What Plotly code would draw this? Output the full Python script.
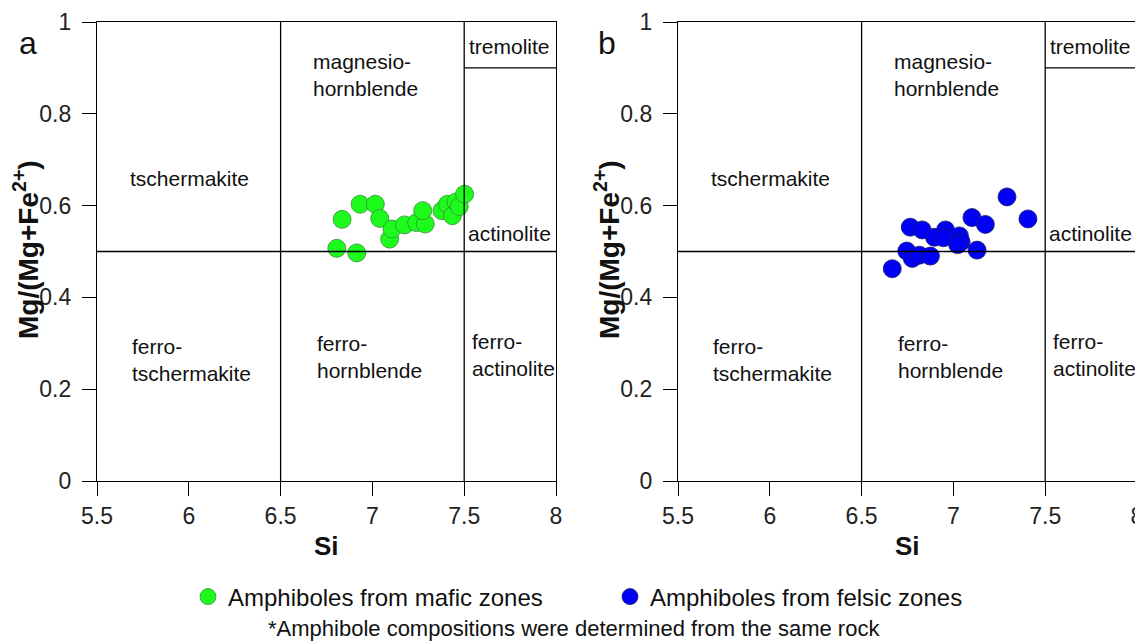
import plotly.graph_objects as go

# ---- data ----
mafic_si = [6.835, 6.806, 6.915, 6.933, 7.016, 7.040, 7.094, 7.107, 7.175, 7.241,
            7.288, 7.274, 7.379, 7.409, 7.436, 7.455, 7.473, 7.502]
mafic_mg = [0.570, 0.507, 0.497, 0.603, 0.603, 0.572, 0.527, 0.549, 0.558, 0.563,
            0.560, 0.589, 0.589, 0.603, 0.578, 0.608, 0.598, 0.625]

felsic_si = [6.667, 6.746, 6.765, 6.776, 6.815, 6.830, 6.875, 6.897, 6.957, 6.946,
             7.033, 7.042, 7.023, 7.101, 7.174, 7.129, 7.292, 7.406]
felsic_mg = [0.4625, 0.501, 0.553, 0.485, 0.492, 0.547, 0.490, 0.531, 0.547, 0.530,
             0.534, 0.521, 0.515, 0.574, 0.559, 0.503, 0.619, 0.571]

x_ticks = [5.5, 6, 6.5, 7, 7.5, 8]
x_tick_labels = ["5.5", "6", "6.5", "7", "7.5", "8"]
y_ticks = [0, 0.2, 0.4, 0.6, 0.8, 1]
y_tick_labels = ["0", "0.2", "0.4", "0.6", "0.8", "1"]

# field boundaries of the amphibole classification diagram
si_bounds = [6.5, 7.5]
mg_bound = 0.5
tremolite_mg = 0.9

field_names = ["tschermakite", "magnesio-<br>hornblende", "tremolite", "actinolite",
               "ferro-<br>tschermakite", "ferro-<br>hornblende", "ferro-<br>actinolite"]
field_x = [5.668, 6.663, 7.517, 7.51, 5.68, 6.685, 7.533]
field_y = [0.66, 0.885, 0.946, 0.54, 0.264, 0.27, 0.2745]

panel_letters = ["a", "b"]

# page has an 8px body margin: size the figure so it fits the 1143x641 window
OX, OY = 8, 8
W, H = 1143 - OX, 641 - OY


def px(x):
    return (x - OX) / W


def py(y):
    return 1 - (y - OY) / H


font_fam = "Liberation Sans, Arial, sans-serif"
line_style = dict(color="black", width=1.3)

fig = go.Figure()

fig.add_trace(go.Scatter(
    x=mafic_si, y=mafic_mg, mode="markers", name="Amphiboles from mafic zones",
    marker=dict(size=18, color="#1dfb1d", line=dict(color="#3a8a3a", width=0.8)),
    xaxis="x", yaxis="y", legend="legend"))
fig.add_trace(go.Scatter(
    x=felsic_si, y=felsic_mg, mode="markers", name="Amphiboles from felsic zones",
    marker=dict(size=18, color="#0000f5", line=dict(color="#1a1a6a", width=0.8)),
    xaxis="x2", yaxis="y2", legend="legend2"))

for xr, yr in [("x", "y"), ("x2", "y2")]:
    for s in si_bounds:
        fig.add_shape(type="line", xref=xr, yref=yr, x0=s, x1=s, y0=0, y1=1, line=line_style)
    fig.add_shape(type="line", xref=xr, yref=yr, x0=x_ticks[0], x1=x_ticks[-1],
                  y0=mg_bound, y1=mg_bound, line=line_style)
    fig.add_shape(type="line", xref=xr, yref=yr, x0=si_bounds[1], x1=x_ticks[-1],
                  y0=tremolite_mg, y1=tremolite_mg, line=line_style)
    for name, fx, fy in zip(field_names, field_x, field_y):
        fig.add_annotation(x=fx, y=fy, xref=xr, yref=yr, text=name, showarrow=False,
                           xanchor="left", yanchor="middle", align="left",
                           font=dict(size=21, color="#111", family=font_fam))

# panel letters
for letter, lx in zip(panel_letters, [28, 607]):
    fig.add_annotation(x=px(lx), y=py(43), xref="paper", yref="paper", text=letter,
                       showarrow=False, font=dict(size=32, color="#111", family=font_fam),
                       xanchor="center", yanchor="middle")

# axis titles
for cx in [26, 607]:
    fig.add_annotation(x=px(cx), y=py(250), xref="paper", yref="paper",
                       text="<b>Mg/(Mg+Fe<sup>2+</sup>)</b>", textangle=-90,
                       showarrow=False, font=dict(size=28, color="#111", family=font_fam),
                       xanchor="center", yanchor="middle")
for cx in [326, 907]:
    fig.add_annotation(x=px(cx), y=py(546), xref="paper", yref="paper",
                       text="<b>Si</b>", showarrow=False,
                       font=dict(size=26, color="#111", family=font_fam),
                       xanchor="center", yanchor="middle")

fig.add_annotation(x=px(574), y=py(628), xref="paper", yref="paper",
                   text="*Amphibole compositions were determined from the same rock",
                   showarrow=False, font=dict(size=22, color="#111", family=font_fam),
                   xanchor="center", yanchor="middle")

ydom = [py(481), py(22)]
axis_common = dict(showline=True, linecolor="black", linewidth=1.3, mirror=True,
                   ticks="outside", ticklen=14, tickwidth=1.3, tickcolor="black",
                   showgrid=False, zeroline=False, automargin=False,
                   ticklabeloverflow="allow",
                   tickfont=dict(size=23, color="#222", family=font_fam))
xaxis_common = dict(axis_common, range=[5.5, 8], tickvals=x_ticks, ticktext=x_tick_labels)
yaxis_common = dict(axis_common, range=[0, 1], tickvals=y_ticks, ticktext=y_tick_labels,
                    ticklabelstandoff=6)

legend_font = dict(size=24, color="#111", family=font_fam)
fig.update_layout(
    width=W, height=H,
    margin=dict(l=0, r=0, t=0, b=0),
    paper_bgcolor="white", plot_bgcolor="white",
    xaxis=dict(xaxis_common, domain=[px(97), px(556)], anchor="y"),
    yaxis=dict(yaxis_common, domain=ydom, anchor="x"),
    xaxis2=dict(xaxis_common, domain=[px(678), px(1137)], anchor="y2"),
    yaxis2=dict(yaxis_common, domain=ydom, anchor="x2"),
    legend=dict(x=px(178 + 10), y=py(597), xanchor="left", yanchor="middle",
                font=legend_font, bgcolor="rgba(0,0,0,0)", itemwidth=30),
    legend2=dict(x=px(601 + 9), y=py(597), xanchor="left", yanchor="middle",
                 font=legend_font, bgcolor="rgba(0,0,0,0)", itemwidth=30),
    showlegend=True,
)

fig.write_html("out.html")
